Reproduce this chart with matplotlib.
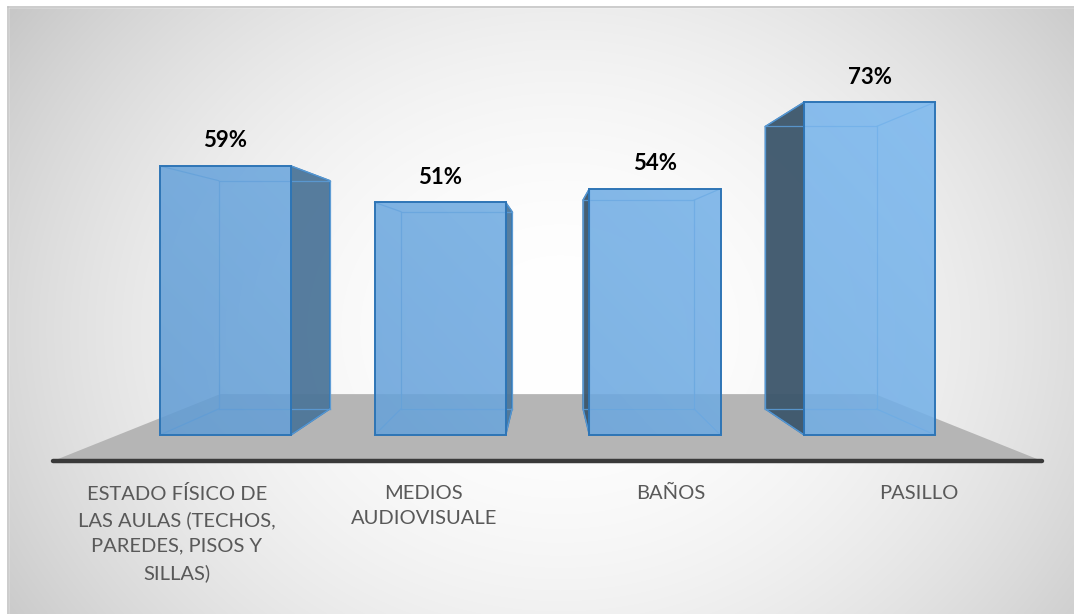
import matplotlib
matplotlib.use("Agg")
import matplotlib.pyplot as plt
import numpy as np
from matplotlib.patches import Polygon, Rectangle

plt.rcParams["font.family"] = ["Lato", "DejaVu Sans"]

categories = [
    "ESTADO FÍSICO DE\nLAS AULAS (TECHOS,\nPAREDES, PISOS Y\nSILLAS)",
    "MEDIOS\nAUDIOVISUALE",
    "BAÑOS",
    "PASILLO",
]
values = [59, 51, 54, 73]
value_labels = ["59%", "51%", "54%", "73%"]

# perspective: everything is scaled towards the vanishing point by depth factor
VP_Y = 37.7
S_BAR_FRONT = 0.869
S_BAR_BACK = 0.737
S_FLOOR_BACK = 0.662
BAR_WIDTH = 0.61
XLIM = (-0.7144, 3.629)
YLIM = (-29.14, 87.81)

W, H = 1074, 614
fig = plt.figure(figsize=(W / 100, H / 100), dpi=100)

# chart area background: soft radial gradient, white in the middle
bg = fig.add_axes([0, 0, 1, 1])
bg.set_xlim(0, W)
bg.set_ylim(H, 0)
bg.axis("off")
yy, xx = np.mgrid[0:H, 0:W]
t2 = ((xx - 560) / 620.0) ** 2 + ((yy - 330) / 520.0) ** 2
shade = np.clip(255 - 48 * t2, 190, 255) / 255.0
bg.imshow(np.dstack([shade] * 3), extent=(0, W, H, 0), zorder=0)
bg.add_patch(Rectangle((0, 0), W, 7, color="white", zorder=1))
bg.add_patch(Rectangle((0, 0), 8, H, color="white", zorder=1))
bg.plot([8, W], [7, 7], color="#c4c4c4", lw=1.2, zorder=2)
bg.plot([8, 8], [7, H], color="#c4c4c4", lw=1.2, zorder=2)

ax = fig.add_axes([0, 0, 1, 1])
ax.patch.set_alpha(0)
ax.axis("off")

VP_X = (len(values) - 1) / 2.0


def proj(x, y, s):
    return (VP_X + s * (x - VP_X), VP_Y + s * (y - VP_Y))


# floor
floor = [proj(-0.5, 0, 1), proj(3.5, 0, 1),
         proj(3.5, 0, S_FLOOR_BACK), proj(-0.5, 0, S_FLOOR_BACK)]
ax.add_patch(Polygon(floor, closed=True, facecolor="#b5b5b5",
                     edgecolor="none", zorder=1))

# fill gradient for the bar fronts: deeper blue lower left, lighter upper right
gy, gx = np.mgrid[0:100, 0:200]
g = 0.65 * (gx / 199.0) + 0.35 * (1 - gy / 99.0)
c0 = np.array([90, 148, 204]) / 255.0
c1 = np.array([128, 190, 245]) / 255.0
grad = c0[None, None, :] * (1 - g[..., None]) + c1[None, None, :] * g[..., None]
grad = np.dstack([grad, np.full(g.shape, 0.87)])

EDGE = "#2e75b6"
INNER = "#5b9bd5"

for i, v in enumerate(values):
    x0, x1 = i - BAR_WIDTH / 2, i + BAR_WIDTH / 2
    f = [proj(x0, 0, S_BAR_FRONT), proj(x1, 0, S_BAR_FRONT),
         proj(x1, v, S_BAR_FRONT), proj(x0, v, S_BAR_FRONT)]
    b = [proj(x0, 0, S_BAR_BACK), proj(x1, 0, S_BAR_BACK),
         proj(x1, v, S_BAR_BACK), proj(x0, v, S_BAR_BACK)]

    # visible side face
    if i < VP_X:
        side = [f[1], f[2], b[2], b[1]]
        side_col = "#4d7699"
    else:
        side = [f[0], f[3], b[3], b[0]]
        side_col = "#3c566b"
    ax.add_patch(Polygon(side, closed=True, facecolor=side_col, alpha=0.95,
                         edgecolor=EDGE, lw=1.1, zorder=3))

    # inner edges seen through the front
    for k in range(4):
        ax.plot([b[k][0], b[(k + 1) % 4][0]], [b[k][1], b[(k + 1) % 4][1]],
                color=INNER, lw=0.9, alpha=0.9, zorder=3)
        ax.plot([f[k][0], b[k][0]], [f[k][1], b[k][1]],
                color=INNER, lw=0.9, alpha=0.9, zorder=3)

    front = Polygon(f, closed=True, facecolor="none", edgecolor=EDGE,
                    lw=1.4, zorder=5)
    ax.add_patch(front)
    im = ax.imshow(grad, extent=(*XLIM, *YLIM), aspect="auto", zorder=4,
                   interpolation="bilinear")
    im.set_clip_path(front)

    ax.annotate(value_labels[i], proj(i, v, S_BAR_FRONT), xytext=(0, 18),
                textcoords="offset points", ha="center", va="center",
                fontsize=16, fontweight="bold", color="black", zorder=6)

ax.set_xlim(*XLIM)
ax.set_ylim(*YLIM)

# category axis line along the floor front
ax.plot([-0.5, 3.5], [0, 0], color="#3a3a3a", lw=3.2, solid_capstyle="round",
        zorder=6)

for i, name in enumerate(categories):
    ax.annotate(name, (i, 0), xytext=(0, -17), textcoords="offset points",
                ha="center", va="top", fontsize=14.5, color="#595959",
                linespacing=1.6, zorder=6)

fig.savefig("out.png", dpi=100)
